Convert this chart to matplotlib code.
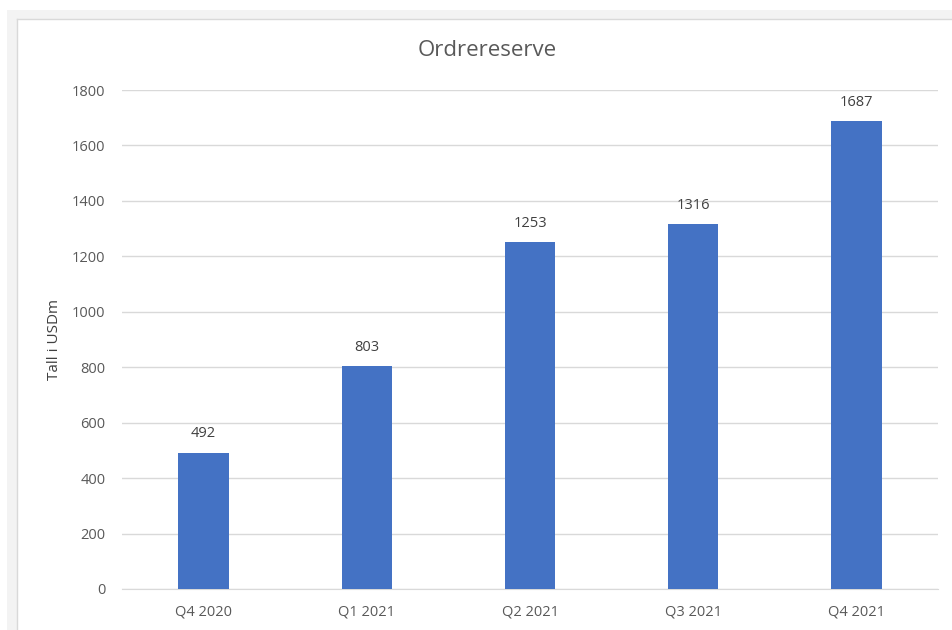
import matplotlib
matplotlib.use("Agg")
import matplotlib.pyplot as plt
from matplotlib.patches import Rectangle
from matplotlib.lines import Line2D

categories = ["Q4 2020", "Q1 2021", "Q2 2021", "Q3 2021", "Q4 2021"]
values = [492, 803, 1253, 1316, 1687]
yticks = [0, 200, 400, 600, 800, 1000, 1200, 1400, 1600, 1800]

plt.rcParams['font.family'] = ['Open Sans', 'DejaVu Sans']
W, H = 952, 630
fig = plt.figure(figsize=(W/100, H/100), dpi=100)
fig.patch.set_facecolor("white")

# outer gray frame bands
fig.add_artist(Rectangle((7/W, 0), 1, 1 - 10/H, transform=fig.transFigure,
                         facecolor="#f3f3f3", edgecolor="none", zorder=0))
fig.add_artist(Rectangle((17/W, 0), 1, 1 - 19/H, transform=fig.transFigure,
                         facecolor="white", edgecolor="none", zorder=0))
fig.add_artist(Line2D([17/W, 17/W], [0, 1 - 19/H], transform=fig.transFigure,
                      color="#d9d9d9", lw=1, zorder=1))
fig.add_artist(Line2D([17/W, 1], [1 - 19/H, 1 - 19/H], transform=fig.transFigure,
                      color="#d9d9d9", lw=1, zorder=1))

ax = fig.add_axes([122/W, 1 - 589/H, (938 - 122)/W, (589 - 90)/H])
ax.set_facecolor("none")
x = range(len(categories))
bars = ax.bar(x, values, width=0.31, color="#4472C4", zorder=3)
for xi, v in zip(x, values):
    ax.annotate(str(v), (xi, v), xytext=(0, 8), textcoords="offset points",
                ha="center", va="bottom", fontsize=10.5, color="#404040")

ax.set_xlim(-0.5, len(categories) - 0.5)
ax.set_ylim(0, 1800)
ax.set_yticks(yticks)
ax.set_xticks(list(x))
ax.set_xticklabels(categories)
ax.grid(axis="y", color="#d9d9d9", lw=1, zorder=0)
for s in ["top", "right", "left"]:
    ax.spines[s].set_visible(False)
ax.spines["bottom"].set_color("#d9d9d9")
ax.tick_params(axis="both", length=0, labelsize=10.5, colors="#595959")
ax.tick_params(axis="y", pad=12)
ax.tick_params(axis="x", pad=11)
ax.set_ylabel("Tall i USDm", fontsize=11, color="#404040", labelpad=7)

fig.text(487/W, 1 - 50/H, "Ordrereserve", ha="center", va="center",
         fontsize=16, color="#595959")

fig.savefig("out.png", dpi=100)
